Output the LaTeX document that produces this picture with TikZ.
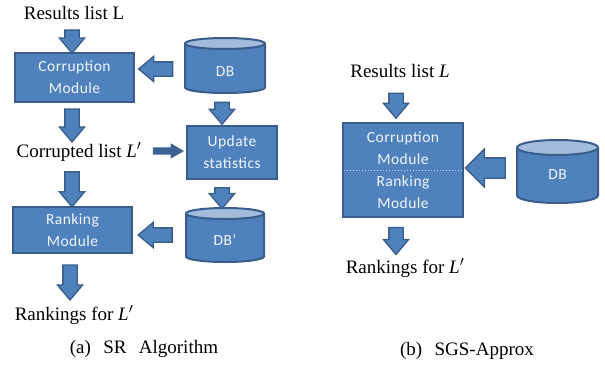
\documentclass[tikz,border=0pt]{standalone}
\usepackage{fontspec}
\setmainfont{Liberation Serif}
\newfontfamily\boxfont[LetterSpace=3]{Carlito}
\usetikzlibrary{shapes.arrows}
\definecolor{bfill}{HTML}{4F81BD}
\definecolor{bdark}{HTML}{385D8A}
\definecolor{btop}{HTML}{A3BCDD}
\definecolor{btext}{HTML}{F2F6FB}
\tikzset{
 lbl/.style={font=\fontsize{19}{22}\selectfont, anchor=base, inner sep=3pt},
 modbox/.style={draw=bdark, fill=bfill, line width=2pt, text=btext, font=\boxfont\fontsize{15.5}{22}\selectfont, align=center, inner sep=0pt},
 dbhold/.style={inner sep=0pt},
 dbtext/.style={text=btext, font=\boxfont\fontsize{15.5}{22}\selectfont, inner sep=0pt},
 barrow/.style={single arrow, draw=bdark, fill=bfill, line width=1.3pt, sloped, allow upside down, inner xsep=0pt, inner ysep=6.5pt, text height=0pt, text depth=0pt, single arrow head extend=5.5pt, single arrow tip angle=80, minimum height=#1},
 thinarrow/.style={barrow=#1, draw=none, fill=bdark!85!bfill, inner ysep=3pt, single arrow head extend=4pt, single arrow tip angle=60},
 bigarrow/.style={barrow=#1, inner ysep=9.5pt, single arrow head extend=9pt, single arrow tip angle=90},
}
\newcommand\dbcyl[8]{%
 \node[dbhold, minimum width=#4pt, minimum height=#5pt] (#1) at (#2,#3) {};
 \fill[bfill] (#2-#4/2,#3-#5/2+#6) -- (#2-#4/2,#3+#5/2-#6) arc[start angle=180,end angle=0,x radius=#4/2,y radius=#6] -- (#2+#4/2,#3-#5/2+#6) -- cycle;
 \draw[bdark, line width=2pt] (#2-#4/2,#3-#5/2+#6) -- (#2-#4/2,#3+#5/2-#6) arc[start angle=180,end angle=0,x radius=#4/2,y radius=#6] -- (#2+#4/2,#3-#5/2+#6);
 \draw[bdark, fill=btop, line width=2pt] (#2,#3-#5/2+#6) ellipse[x radius=#4/2, y radius=#6];
 \node[dbtext] (#1-l) at (#2,#3+#7) {#8};
}
\begin{document}
\begin{tikzpicture}[x=1pt,y=-1pt]
\useasboundingbox (0,0) rectangle (605,367);
% ---------- (a) ----------
\node[lbl] (resL) at (74,19.3) {Results list L};
\node[modbox, minimum width=119pt, minimum height=49pt] (corr) at (74.5,77.5) {Corruption\\Module};
\dbcyl{db1}{225}{65.5}{80}{55}{5.5}{6.5}{DB}
\node[modbox, minimum width=90pt, minimum height=53pt] (upd) at (232,152.5) {Update\\statistics};
\node[lbl] (corrL) at (79,157) {Corrupted list \textit{L}$'$};
\node[modbox, minimum width=119pt, minimum height=46pt] (rank) at (72.5,230) {Ranking\\Module};
\dbcyl{db2}{225}{235}{78}{54}{5.5}{5}{DB’}
\node[lbl] (rankL) at (74,320) {Rankings for \textit{L}$'$};
\node[lbl] (capA) at (144,353) {(a)\hspace{0.65em}SR\hspace{0.65em}Algorithm};
\coordinate (c1) at ([xshift=-2.5pt]corr.north);
\path (c1 |- resL.south) -- node[barrow=23pt] (ar1) {} (c1);
\coordinate (c2) at ([yshift=-3.5pt]db1.west);
\path (c2) -- node[barrow=34pt] (ar2) {} (c2 -| corr.east);
\coordinate (c3) at ([xshift=-3pt]db1.south);
\path (c3) -- node[barrow=22pt] (ar3) {} (c3 |- upd.north);
\coordinate (c4) at ([xshift=-2.5pt]corr.south);
\path (c4) -- node[barrow=33pt] (ar4) {} (c4 |- corrL.north);
\coordinate (c5) at ([yshift=1.5pt]upd.west);
\path (c5 -| corrL.east) -- node[thinarrow=31pt] (ar5) {} (c5);
\coordinate (c6) at ([xshift=-0.5pt]rank.north);
\path (c6 |- corrL.south) -- node[barrow=35pt] (ar6) {} (c6);
\coordinate (c7) at ([xshift=-3pt]db2.north);
\path (c7 |- upd.south) -- node[barrow=21pt] (ar7) {} (c7);
\path (db2.west) -- node[barrow=34pt] (ar8) {} (db2.west -| rank.east);
\coordinate (c9) at ([xshift=-2.5pt]rank.south);
\path (c9) -- node[barrow=35pt] (ar9) {} (c9 |- rankL.north);
% ---------- (b) ----------
\node[lbl] (resR) at (400,77.7) {Results list \textit{L}};
\node[modbox, minimum width=120pt, minimum height=94pt] (sgs) at (403,170) {Corruption\\Module\\Ranking\\Module};
\draw[dotted, line width=1pt, btext!75!bfill] ([xshift=2pt]sgs.west) -- ([xshift=-2pt]sgs.east);
\dbcyl{db3}{557.5}{171.5}{81}{63}{7.5}{3.5}{DB}
\node[lbl] (rankR) at (405,273) {Rankings for \textit{L}$'$};
\node[lbl] (capB) at (467,355) {(b)\hspace{0.65em}SGS-Approx};
\coordinate (c10) at ([xshift=-7pt]sgs.north);
\path (c10 |- resR.south) -- node[barrow=25pt] (ar10) {} (c10);
\coordinate (c11) at ([yshift=2pt]sgs.east);
\path (c11 -| db3.west) -- node[bigarrow=40pt] (ar11) {} (c11);
\coordinate (c12) at ([xshift=-7pt]sgs.south);
\path (c12) -- node[barrow=27pt] (ar12) {} (c12 |- rankR.north);
\end{tikzpicture}
\end{document}
